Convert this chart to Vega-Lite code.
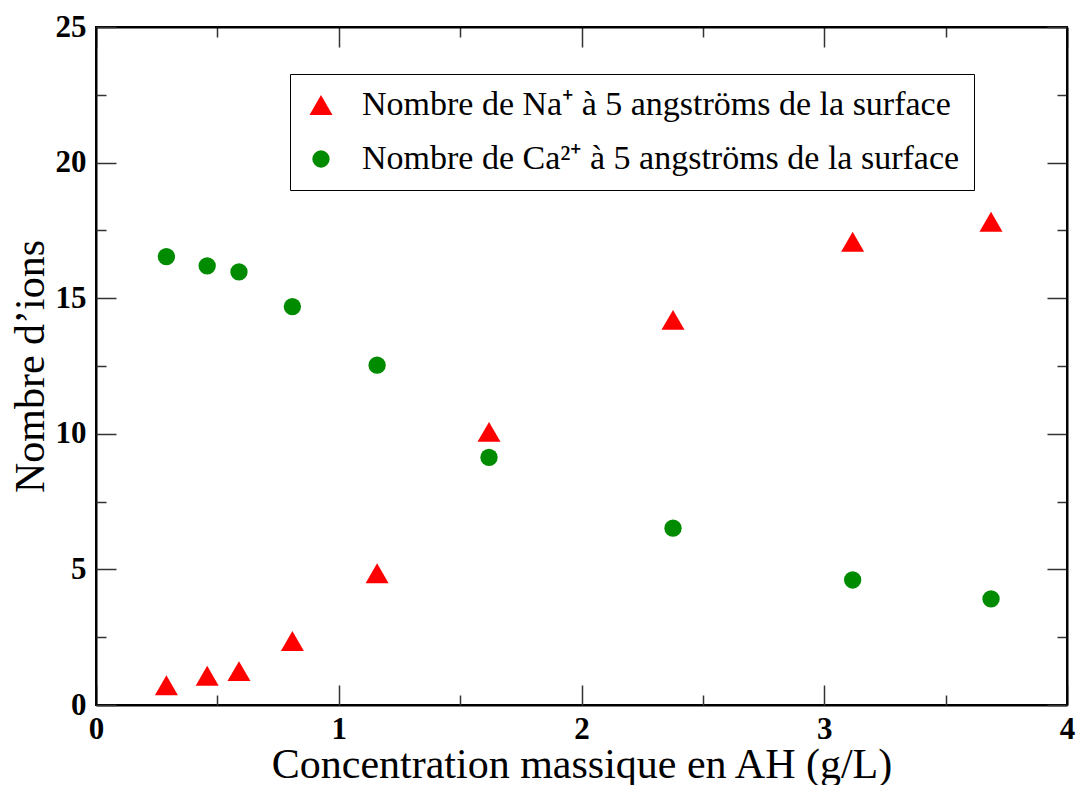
{
  "$schema": "https://vega.github.io/schema/vega-lite/v6.json",
  "autosize": {"type": "none"},
  "padding": {"left": 96, "top": 27, "right": 10, "bottom": 80},
  "width": 971,
  "height": 678,
  "background": "white",
  "config": {
    "view": {"stroke": "black", "strokeWidth": 2},
    "font": "Liberation Serif"
  },
  "data": {
    "values": [
      {"conc": 0.290, "n": 0.73, "ion": "Nombre de Na⁺ à 5 angströms de la surface"},
      {"conc": 0.458, "n": 1.08, "ion": "Nombre de Na⁺ à 5 angströms de la surface"},
      {"conc": 0.589, "n": 1.25, "ion": "Nombre de Na⁺ à 5 angströms de la surface"},
      {"conc": 0.809, "n": 2.36, "ion": "Nombre de Na⁺ à 5 angströms de la surface"},
      {"conc": 1.158, "n": 4.86, "ion": "Nombre de Na⁺ à 5 angströms de la surface"},
      {"conc": 1.619, "n": 10.07, "ion": "Nombre de Na⁺ à 5 angströms de la surface"},
      {"conc": 2.377, "n": 14.2, "ion": "Nombre de Na⁺ à 5 angströms de la surface"},
      {"conc": 3.117, "n": 17.08, "ion": "Nombre de Na⁺ à 5 angströms de la surface"},
      {"conc": 3.687, "n": 17.82, "ion": "Nombre de Na⁺ à 5 angströms de la surface"},
      {"conc": 0.290, "n": 16.53, "ion": "Nombre de Ca²⁺ à 5 angströms de la surface"},
      {"conc": 0.458, "n": 16.19, "ion": "Nombre de Ca²⁺ à 5 angströms de la surface"},
      {"conc": 0.589, "n": 15.97, "ion": "Nombre de Ca²⁺ à 5 angströms de la surface"},
      {"conc": 0.809, "n": 14.69, "ion": "Nombre de Ca²⁺ à 5 angströms de la surface"},
      {"conc": 1.158, "n": 12.53, "ion": "Nombre de Ca²⁺ à 5 angströms de la surface"},
      {"conc": 1.619, "n": 9.13, "ion": "Nombre de Ca²⁺ à 5 angströms de la surface"},
      {"conc": 2.377, "n": 6.52, "ion": "Nombre de Ca²⁺ à 5 angströms de la surface"},
      {"conc": 3.117, "n": 4.61, "ion": "Nombre de Ca²⁺ à 5 angströms de la surface"},
      {"conc": 3.687, "n": 3.91, "ion": "Nombre de Ca²⁺ à 5 angströms de la surface"}
    ]
  },
  "layer": [
    {
      "mark": {"type": "point", "filled": true, "opacity": 1},
      "encoding": {
        "x": {
          "field": "conc", "type": "quantitative",
          "scale": {"domain": [0, 4], "nice": false, "zero": false},
          "axis": {
            "orient": "bottom",
            "title": "Concentration massique en AH (g/L)",
            "titleFont": "Liberation Serif", "titleFontSize": 42, "titleFontWeight": "normal", "titleColor": "black",
            "titlePadding": 0,
            "values": [0, 1, 2, 3, 4], "format": "d",
            "labelFont": "Liberation Serif", "labelFontSize": 31, "labelFontWeight": "bold", "labelColor": "black",
            "labelPadding": 9, "labelFlush": false,
            "ticks": false, "grid": false,
            "domainColor": "black", "domainWidth": 2
          }
        },
        "y": {
          "field": "n", "type": "quantitative",
          "scale": {"domain": [0, 25], "nice": false},
          "axis": {
            "orient": "left",
            "title": "Nombre d’ions",
            "titleFont": "Liberation Serif", "titleFontSize": 42, "titleFontWeight": "normal", "titleColor": "black",
            "titlePadding": 3,
            "values": [0, 5, 10, 15, 20, 25], "format": "d",
            "labelFont": "Liberation Serif", "labelFontSize": 31, "labelFontWeight": "bold", "labelColor": "black",
            "labelPadding": 10, "labelFlush": false,
            "ticks": false, "grid": false,
            "domainColor": "black", "domainWidth": 2
          }
        },
        "color": {
          "field": "ion", "type": "nominal",
          "scale": {
            "domain": ["Nombre de Na⁺ à 5 angströms de la surface", "Nombre de Ca²⁺ à 5 angströms de la surface"],
            "range": ["#ff0000", "#008b00"]
          },
          "legend": {
            "title": null,
            "orient": "none", "legendX": 194, "legendY": 47,
            "strokeColor": "black", "fillColor": "white",
            "padding": 14,
            "labelFont": "Liberation Serif", "labelFontSize": 34, "labelColor": "black",
            "labelLimit": 800, "labelOffset": 24,
            "rowPadding": 20,
            "symbolStrokeWidth": 0
          }
        },
        "shape": {
          "field": "ion", "type": "nominal",
          "scale": {
            "domain": ["Nombre de Na⁺ à 5 angströms de la surface", "Nombre de Ca²⁺ à 5 angströms de la surface"],
            "range": ["triangle-up", "circle"]
          }
        },
        "size": {
          "field": "ion", "type": "nominal",
          "scale": {
            "domain": ["Nombre de Na⁺ à 5 angströms de la surface", "Nombre de Ca²⁺ à 5 angströms de la surface"],
            "range": [530, 300]
          }
        }
      }
    },
    {
      "mark": {"type": "point", "opacity": 0},
      "encoding": {
        "x": {
          "field": "conc", "type": "quantitative",
          "axis": {
            "orient": "bottom", "title": null, "labels": false, "grid": false,
            "values": [0, 0.5, 1, 1.5, 2, 2.5, 3, 3.5, 4],
            "domain": false,
            "tickColor": "#333", "tickWidth": 1.5,
            "tickSize": {"condition": {"test": "datum.value % 1 === 0", "value": -20}, "value": -10}
          }
        },
        "y": {
          "field": "n", "type": "quantitative",
          "axis": {
            "orient": "left", "title": null, "labels": false, "grid": false,
            "values": [0, 2.5, 5, 7.5, 10, 12.5, 15, 17.5, 20, 22.5, 25],
            "domain": false,
            "tickColor": "#333", "tickWidth": 1.5,
            "tickSize": {"condition": {"test": "datum.value % 5 === 0", "value": -20}, "value": -10}
          }
        }
      }
    },
    {
      "mark": {"type": "point", "opacity": 0},
      "encoding": {
        "x": {
          "field": "conc", "type": "quantitative",
          "axis": {
            "orient": "top", "title": null, "labels": false, "grid": false,
            "values": [0, 0.5, 1, 1.5, 2, 2.5, 3, 3.5, 4],
            "domainColor": "black", "domainWidth": 2,
            "tickColor": "#333", "tickWidth": 1.5,
            "tickSize": {"condition": {"test": "datum.value % 1 === 0", "value": -20}, "value": -10}
          }
        },
        "y": {
          "field": "n", "type": "quantitative",
          "axis": {
            "orient": "right", "title": null, "labels": false, "grid": false,
            "values": [0, 2.5, 5, 7.5, 10, 12.5, 15, 17.5, 20, 22.5, 25],
            "domainColor": "black", "domainWidth": 2,
            "tickColor": "#333", "tickWidth": 1.5,
            "tickSize": {"condition": {"test": "datum.value % 5 === 0", "value": -20}, "value": -10}
          }
        }
      }
    }
  ],
  "resolve": {"axis": {"x": "independent", "y": "independent"}}
}
